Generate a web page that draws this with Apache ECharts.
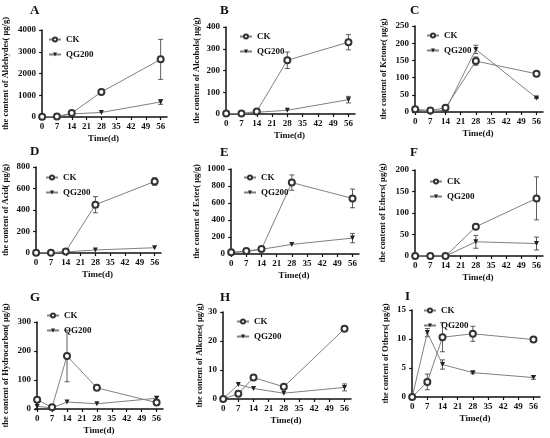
<!DOCTYPE html>
<html>
<head>
<meta charset="utf-8">
<title>ECharts</title>
<script src="https://cdn.jsdelivr.net/npm/echarts@6/dist/echarts.min.js"></script>
</head>
<body style="margin:0;background:#fff;">
<div id="main" style="width:550px;height:438px;"></div>
<script type="text/javascript">
// sampling days
var days = [0, 7, 14, 28, 56];

// compound classes (panel order A..I)
var letters = ['A', 'B', 'C', 'D', 'E', 'F', 'G', 'H', 'I'];
var compounds = ['Aldehydes', 'Alcohols', 'Ketone', 'Acid', 'Ester', 'Ethers', 'Hydrocarbon', 'Alkenes', 'Others'];
var yMax = [4000, 400, 250, 800, 1000, 200, 300, 30, 15];
var yStep = [1000, 100, 50, 200, 200, 50, 100, 10, 5];

// means (μg/g)
var ckData = [
    [10, 20, 180, 1150, 2650],
    [2, 2, 12, 247, 330],
    [8, 4, 12, 148, 111],
    [2, 3, 15, 449, 665],
    [20, 35, 58, 840, 654],
    [0, 0, 0, 68, 134],
    [32, 6, 183, 73, 22],
    [0, 1.8, 7.4, 4.2, 24.2],
    [0, 2.6, 10.3, 10.9, 9.9]
];
var qgData = [
    [5, 10, 140, 210, 690],
    [1, 1, 8, 17, 66],
    [5, 2, 5, 182, 41],
    [1, 1, 10, 28, 49],
    [15, 28, 55, 113, 187],
    [0, 0, 0, 33, 29],
    [9, 4, 24, 18, 37],
    [0, 5, 3.6, 2, 4],
    [0, 11.1, 5.6, 4.2, 3.35]
];
// error bars (±)
var ckErr = [
    [0, 0, 0, 40, 920],
    [0, 0, 0, 38, 35],
    [0, 0, 0, 12, 3],
    [0, 0, 0, 75, 35],
    [0, 0, 0, 90, 110],
    [0, 0, 0, 0, 50],
    [0, 0, 89, 0, 0],
    [0, 0, 0, 0, 0.4],
    [0, 1.35, 2.5, 1.3, 0.5]
];
var qgErr = [
    [0, 0, 0, 0, 110],
    [0, 0, 0, 0, 15],
    [0, 0, 0, 12, 2],
    [0, 0, 0, 0, 0],
    [0, 0, 0, 0, 55],
    [0, 0, 0, 15, 15],
    [0, 0, 0, 0, 6],
    [0, 0, 0, 0, 1.2],
    [0, 0.7, 0.8, 0.2, 0.3]
];
var tickDays = [0, 7, 14, 21, 28, 35, 42, 49, 56];

// panel placement
var boxes = [
    {left: 37, top: 30, width: 130, height: 87, gap: 30, lg: [43, 30], lt: [35, 11]},
    {left: 224, top: 27, width: 131, height: 87, gap: 23, lg: [234, 27], lt: [225, 11]},
    {left: 413, top: 26, width: 130, height: 86, gap: 25, lg: [421, 26], lt: [415, 11]},
    {left: 31, top: 167, width: 130, height: 86, gap: 24, lg: [40, 168], lt: [35, 152]},
    {left: 229, top: 169, width: 130, height: 85, gap: 28, lg: [238, 168], lt: [225, 153]},
    {left: 413, top: 170, width: 130, height: 86, gap: 26, lg: [424, 172], lt: [415, 153]},
    {left: 32, top: 322, width: 131, height: 87, gap: 25, lg: [41, 306], lt: [35, 298]},
    {left: 221, top: 312, width: 130, height: 87, gap: 16, lg: [231, 312], lt: [225, 298]},
    {left: 410, top: 310, width: 130, height: 87, gap: 20, lg: [418, 301], lt: [410, 297]}
];

var font = 'Liberation Serif';
var lineGray = '#808080';
var ink = '#111';

function errData(means, errs) {
    var out = [];
    for (var i = 0; i < days.length; i++) {
        if (errs[i] > 0) out.push([days[i], means[i] - errs[i], means[i] + errs[i]]);
    }
    return out;
}

function renderErr(params, api) {
    var lo = api.coord([api.value(0), api.value(1)]);
    var hi = api.coord([api.value(0), api.value(2)]);
    var w = 2.5;
    var st = {stroke: '#333', lineWidth: 0.8};
    return {
        type: 'group',
        children: [
            {type: 'line', shape: {x1: lo[0], y1: lo[1], x2: hi[0], y2: hi[1]}, style: st},
            {type: 'line', shape: {x1: lo[0] - w, y1: lo[1], x2: lo[0] + w, y2: lo[1]}, style: st},
            {type: 'line', shape: {x1: hi[0] - w, y1: hi[1], x2: hi[0] + w, y2: hi[1]}, style: st}
        ]
    };
}

function pairs(vals) {
    return days.map(function (d, i) { return [d, vals[i]]; });
}

var grids = [], xAxes = [], yAxes = [], series = [], legends = [], graphics = [];

for (var p = 0; p < 9; p++) {
    var b = boxes[p];
    grids.push({left: b.left, top: b.top, width: b.width, height: b.height, containLabel: false});
    xAxes.push({
        type: 'value', gridIndex: p, min: -1, max: 59,
        name: 'Time(d)', nameLocation: 'middle', nameGap: 17,
        nameTextStyle: {fontFamily: font, fontWeight: 'bold', fontSize: 9, color: ink},
        axisLine: {onZero: false, lineStyle: {color: ink, width: 1.5}},
        axisTick: {show: true, length: 3, lineStyle: {color: ink, width: 1.2}, customValues: tickDays},
        axisLabel: {fontFamily: font, fontWeight: 'bold', fontSize: 9, color: ink, margin: 5,
            customValues: tickDays},
        splitLine: {show: false}
    });
    yAxes.push({
        type: 'value', gridIndex: p, min: 0, max: yMax[p], interval: yStep[p],
        name: 'the content of ' + compounds[p] + '( μg/g)', nameLocation: 'middle', nameGap: b.gap,
        nameTextStyle: {fontFamily: font, fontWeight: 'bold', fontSize: 8.5, color: ink},
        axisLine: {show: true, lineStyle: {color: ink, width: 1.5}},
        axisTick: {show: true, length: 3, lineStyle: {color: ink, width: 1.2}},
        axisLabel: {fontFamily: font, fontWeight: 'bold', fontSize: 9, color: ink, margin: 4,
            formatter: function (v) { return String(v); }},
        splitLine: {show: false}
    });
    series.push({
        type: 'custom', xAxisIndex: p, yAxisIndex: p, z: 1,
        renderItem: renderErr, data: errData(ckData[p], ckErr[p]), silent: true
    });
    series.push({
        type: 'custom', xAxisIndex: p, yAxisIndex: p, z: 1,
        renderItem: renderErr, data: errData(qgData[p], qgErr[p]), silent: true
    });
    series.push({
        name: 'CK', type: 'line', xAxisIndex: p, yAxisIndex: p, z: 3,
        data: pairs(ckData[p]),
        symbol: 'emptyCircle', symbolSize: 6,
        lineStyle: {color: lineGray, width: 1},
        itemStyle: {color: '#333', borderColor: '#333', borderWidth: 1}
    });
    series.push({
        name: 'QG200', type: 'line', xAxisIndex: p, yAxisIndex: p, z: 2,
        data: pairs(qgData[p]),
        symbol: 'triangle', symbolRotate: 180, symbolSize: 5,
        lineStyle: {color: lineGray, width: 1},
        itemStyle: {color: '#222'}
    });
    legends.push({
        data: ['CK', 'QG200'], orient: 'vertical', left: b.lg[0], top: b.lg[1],
        itemWidth: 12, itemHeight: 5, itemGap: 6, selectedMode: false,
        textStyle: {fontFamily: font, fontWeight: 'bold', fontSize: 9, color: ink}
    });
    graphics.push({
        type: 'text', left: b.lt[0] - 5, top: b.lt[1] - 7,
        style: {text: letters[p], font: 'bold 13px "Liberation Serif"', fill: ink}
    });
}

var myChart = echarts.init(document.getElementById('main'));
myChart.setOption({
    animation: false,
    backgroundColor: '#fff',
    grid: grids,
    xAxis: xAxes,
    yAxis: yAxes,
    legend: legends,
    graphic: graphics,
    series: series
});
</script>
</body>
</html>
